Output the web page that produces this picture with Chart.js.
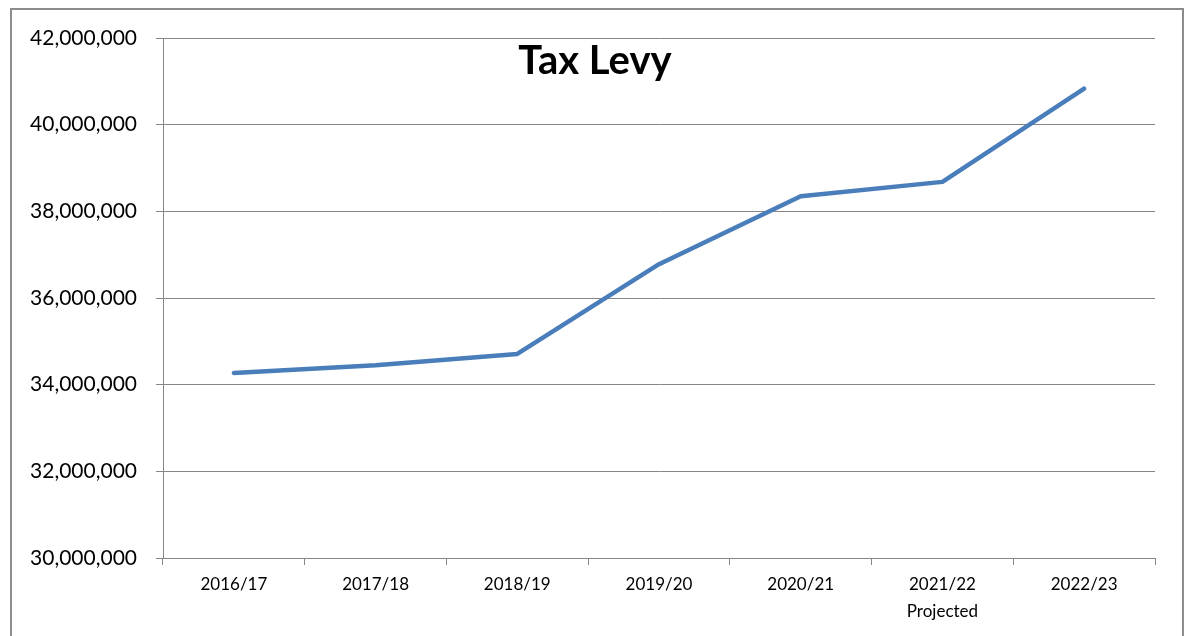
<!DOCTYPE html>
<html>
<head>
<meta charset="utf-8">
<title>Tax Levy</title>
<script src="https://cdn.jsdelivr.net/npm/chart.js@4.4.1/dist/chart.umd.min.js"></script>
<style>
  html, body { margin: 0; padding: 0; background: #fff; overflow: hidden; }
  .frame {
    position: absolute; left: 10px; top: 8px;
    width: 1170px; height: 700px;
    border: 2px solid #8c8c8c;
    pointer-events: none;
  }
  .wrap { position: absolute; left: 0; top: 0; width: 1188px; height: 636px; }
</style>
</head>
<body>
<div class="wrap"><canvas id="levy" width="1188" height="636"></canvas></div>
<div class="frame"></div>
<script>
const years = ["2016/17", "2017/18", "2018/19", "2019/20", "2020/21", ["2021/22", "Projected"], "2022/23"];
const levy = [34270000, 34450000, 34710000, 36780000, 38350000, 38680000, 40830000];
const yMin = 30000000;
const yMax = 42000000;
const yStep = 2000000;

const gridGray = "#868686";

// title sits inside the plot, not centred on it
const titleText = {
  id: "titleText",
  afterDraw(chart) {
    const ctx = chart.ctx;
    ctx.save();
    ctx.font = "bold 40px Lato";
    ctx.fillStyle = "#000";
    ctx.textAlign = "center";
    ctx.textBaseline = "alphabetic";
    ctx.fillText("Tax Levy", 595, 74);
    ctx.restore();
  }
};

new Chart(document.getElementById("levy"), {
  type: "line",
  data: {
    labels: years,
    datasets: [
      {
        label: "Tax Levy",
        data: levy,
        borderColor: "#4a7ebb",
        borderWidth: 4.5,
        borderCapStyle: "round",
        borderJoinStyle: "round",
        pointRadius: 0,
        tension: 0,
      },
    ],
  },
  options: {
    responsive: false,
    animation: false,
    layout: { padding: { top: 38, right: 33, left: 0, bottom: 0 } },
    plugins: {
      legend: { display: false },
      tooltip: { enabled: false },
    },
    scales: {
      x: {
        offset: true,
        grid: {
          offset: true,
          drawOnChartArea: false,
          drawTicks: true,
          tickLength: 7,
          color: gridGray,
        },
        border: { color: gridGray, width: 1 },
        ticks: {
          color: "#000",
          padding: 6,
          maxRotation: 0,
          font: { family: "Lato", size: 17, lineHeight: "27px" },
        },
        afterFit(scale) {
          scale.height = 78;
        },
      },
      y: {
        min: yMin,
        max: yMax,
        grid: { color: gridGray, tickLength: 7, lineWidth: 1 },
        border: { color: gridGray, width: 1 },
        ticks: {
          stepSize: yStep,
          color: "#000",
          padding: 19,
          font: { family: "Lato", size: 21 },
          callback: (v) => v.toLocaleString("en-US"),
        },
        afterFit(scale) {
          scale.width = 163;
        },
      },
    },
  },
  plugins: [titleText],
});
</script>
</body>
</html>
